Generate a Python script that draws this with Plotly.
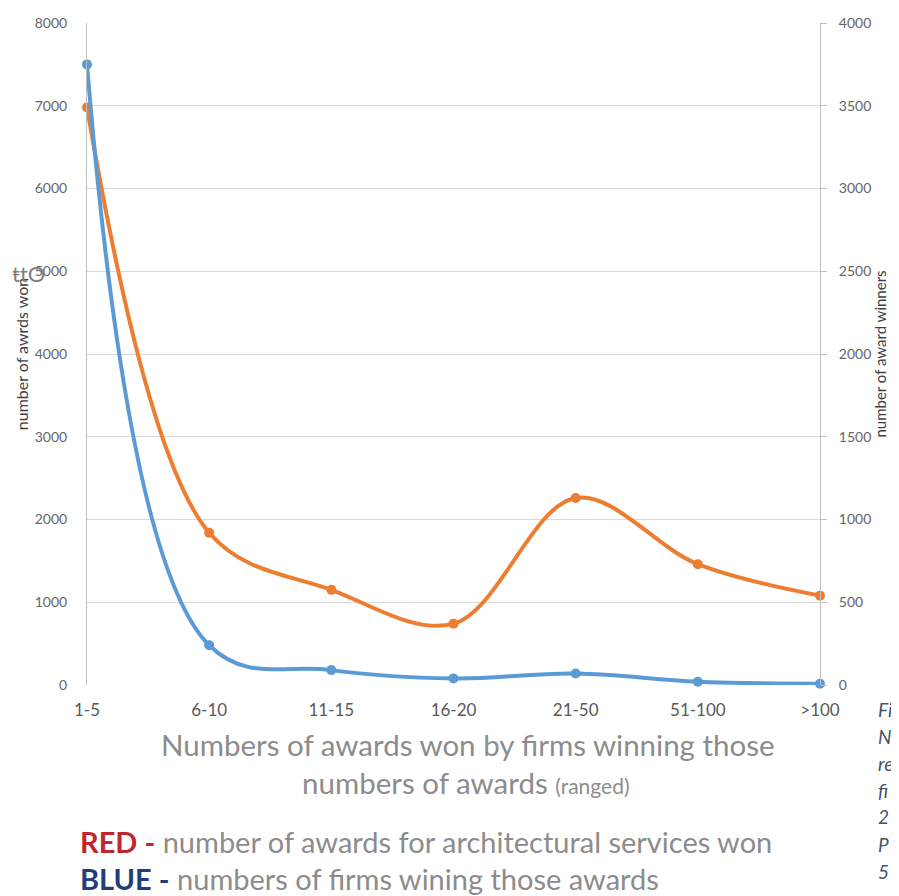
import plotly.graph_objects as go

categories = ["1-5", "6-10", "11-15", "16-20", "21-50", "51-100", ">100"]
awards_won = [6980, 1840, 1150, 740, 2260, 1460, 1080]
firms_winning = [3750, 240, 90, 40, 70, 20, 8]
left_ticks = [0, 1000, 2000, 3000, 4000, 5000, 6000, 7000, 8000]
right_ticks = [0, 500, 1000, 1500, 2000, 2500, 3000, 3500, 4000]
caption_bits = ["Fi", "N", "re", "fi", "2", "P", "5"]

ORANGE = "#ED7D31"
BLUE = "#5B9BD5"
FONT = "Lato, 'Open Sans', sans-serif"

# page body has an 8px margin; figure coordinates = viewport - 8
OFF = 8
W, H = 899 - OFF, 896 - OFF
PL, PR, PT, PB = 87 - OFF, 820 - OFF, 23 - OFF, 685 - OFF

def ypaper(py):
    return (PB - (py - OFF)) / (PB - PT)

def xpaper(px):
    return ((px - OFF) - PL) / (PR - PL)

x_idx = list(range(len(categories)))

fig = go.Figure()
fig.add_trace(go.Scatter(
    x=x_idx, y=awards_won, mode="lines+markers", name="awards",
    line=dict(color=ORANGE, width=4, shape="spline", smoothing=1.0),
    marker=dict(color=ORANGE, size=10), cliponaxis=False, yaxis="y"))
fig.add_trace(go.Scatter(
    x=x_idx, y=firms_winning, mode="lines+markers", name="firms",
    line=dict(color=BLUE, width=4, shape="spline", smoothing=1.1),
    marker=dict(color=BLUE, size=10), cliponaxis=False, yaxis="y2"))

fig.update_layout(
    width=W, height=H,
    margin=dict(l=PL, r=W - PR, t=PT, b=H - PB, autoexpand=False),
    paper_bgcolor="white", plot_bgcolor="white",
    showlegend=False,
    font=dict(family=FONT, color="#595959"),
    xaxis=dict(
        range=[0, 6], tickvals=x_idx, ticktext=categories,
        showgrid=False, zeroline=False, showline=False, automargin=False,
        tickfont=dict(size=17, color="#595959", family=FONT),
        ticks="", ticklabelstandoff=13,
    ),
    yaxis=dict(
        range=[0, 8000], tickvals=left_ticks, automargin=False,
        showgrid=True, gridcolor="#D9D9D9", gridwidth=1,
        zeroline=False, showline=True, linecolor="#BFBFBF",
        ticks="", ticklabelstandoff=16,
        tickfont=dict(size=14, color="#666666"),
        title=dict(text="number of awrds won", font=dict(size=16, color="#404040"), standoff=2),
    ),
    yaxis2=dict(
        range=[0, 4000], tickvals=right_ticks, overlaying="y", side="right",
        automargin=False,
        showgrid=False, zeroline=False, showline=True, linecolor="#BFBFBF",
        ticks="outside", ticklen=6, tickcolor="#BFBFBF", ticklabelstandoff=9,
        tickfont=dict(size=14, color="#666666"),
        title=dict(text="number of award winners", font=dict(size=15, color="#404040"), standoff=4),
    ),
)

# x-axis title (two lines)
fig.add_annotation(
    x=xpaper(468), y=ypaper(745), xref="paper", yref="paper", showarrow=False,
    yanchor="middle", text="Numbers of awards won by firms winning those",
    font=dict(size=29.5, color="#8C8C8C", family=FONT))
fig.add_annotation(
    x=xpaper(466), y=ypaper(782), xref="paper", yref="paper", showarrow=False,
    yanchor="middle",
    text="numbers of awards <span style='font-size:21px'>(ranged)</span>",
    font=dict(size=29.5, color="#8C8C8C", family=FONT))

# colour key text
fig.add_annotation(
    x=xpaper(78), y=ypaper(841), xref="paper", yref="paper", showarrow=False,
    xanchor="left", yanchor="middle",
    text="<b><span style='color:#C0272D'>RED -</span></b> number of awards for architectural services won",
    font=dict(size=29, color="#8C8C8C", family=FONT))
fig.add_annotation(
    x=xpaper(78), y=ypaper(879), xref="paper", yref="paper", showarrow=False,
    xanchor="left", yanchor="middle",
    text="<b><span style='color:#203F7A'>BLUE -</span></b> numbers of firms wining those awards",
    font=dict(size=29, color="#8C8C8C", family=FONT))

# truncated caption on the right edge
for i, t in enumerate(caption_bits):
    fig.add_annotation(
        x=xpaper(876), y=ypaper(709 + i * 27), xref="paper", yref="paper",
        showarrow=False, xanchor="left", yanchor="middle",
        text="<i>" + t + "</i>", font=dict(size=19, color="#44546A", family=FONT))

# overlapping artifact text near left axis
fig.add_annotation(
    x=xpaper(10), y=ypaper(273), xref="paper", yref="paper", showarrow=False,
    xanchor="left", yanchor="middle", text="ŧtO",
    font=dict(size=22, color="#7F7F7F", family=FONT))

fig.write_html("out.html")
